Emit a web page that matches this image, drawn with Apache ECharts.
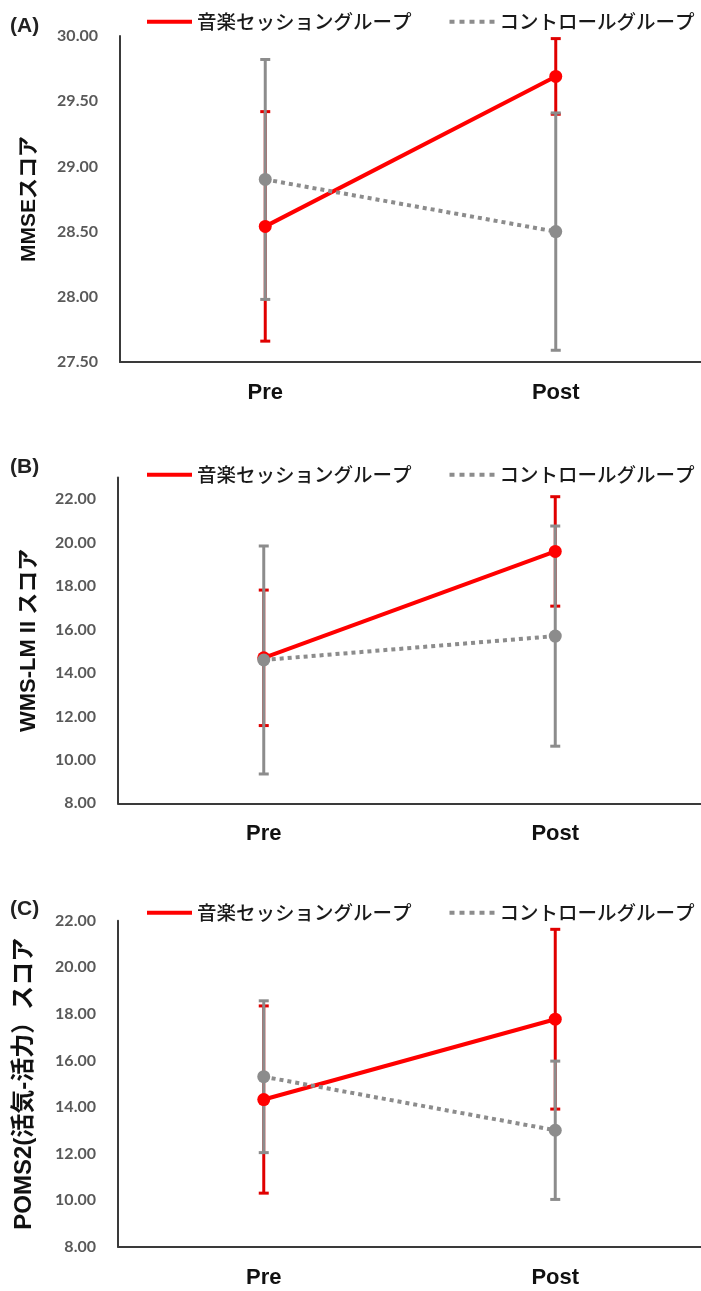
<!DOCTYPE html>
<html>
<head>
<meta charset="utf-8">
<script src="https://cdn.jsdelivr.net/npm/echarts@6/dist/echarts.min.js"></script>
<style>
html,body{margin:0;padding:0;background:#fff;}
#chart{width:701px;height:1291px;}
</style>
</head>
<body>
<div id="chart"></div>
<script>
// ---- data ----
const categories = ['Pre', 'Post'];
const seriesNames = ['音楽セッショングループ', 'コントロールグループ'];
const panelLetters = ['(A)', '(B)', '(C)'];
const axisNames = ['MMSEスコア', 'WMS-LM II スコア', 'POMS2(活気-活力）スコア'];

// Panel A: MMSE
const musicMeanA = [28.54, 29.69];
const musicSdA = [0.88, 0.29];
const controlMeanA = [28.90, 28.50];
const controlSdA = [0.92, 0.91];
// Panel B: WMS-LM II
const musicMeanB = [14.70, 19.60];
const musicSdB = [3.12, 2.52];
const controlMeanB = [14.60, 15.70];
const controlSdB = [5.25, 5.07];
// Panel C: POMS2
const musicMeanC = [14.32, 17.77];
const musicSdC = [4.02, 3.86];
const controlMeanC = [15.30, 13.00];
const controlSdC = [3.26, 2.97];

// y axis ranges [min, max, interval, last labelled tick]
const yRangeA = [27.5, 30, 0.5, 30];
const yRangeB = [8, 23, 2, 22];
const yRangeC = [8, 22, 2, 22];

// ---- build ----
const RED = '#ff0000';
const RED_BAR = '#e00000';
const GRAY = '#8c8c8c';

const panels = [
  {music: musicMeanA, musicSd: musicSdA, ctrl: controlMeanA, ctrlSd: controlSdA, range: yRangeA,
   grid: {left: 120, top: 36, right: 0, height: 326}, legendTop: 12, titleTop: 16, nameSize: 21, nameGap: 80},
  {music: musicMeanB, musicSd: musicSdB, ctrl: controlMeanB, ctrlSd: controlSdB, range: yRangeB,
   grid: {left: 118, top: 477.6, right: 0, height: 325.7}, legendTop: 465, titleTop: 457, nameSize: 22, nameGap: 78},
  {music: musicMeanC, musicSd: musicSdC, ctrl: controlMeanC, ctrlSd: controlSdC, range: yRangeC,
   grid: {left: 118, top: 920.7, right: 0, height: 326}, legendTop: 903, titleTop: 899, nameSize: 24, nameGap: 82}
];

function errData(mean, sd) {
  return mean.map((m, i) => [i, m - sd[i], m + sd[i]]);
}
function errRender(color) {
  return function (params, api) {
    const x = api.value(0);
    const lo = api.coord([x, api.value(1)]);
    const hi = api.coord([x, api.value(2)]);
    const w = 5;
    const style = {stroke: color, lineWidth: 3};
    return {
      type: 'group',
      children: [
        {type: 'line', shape: {x1: lo[0], y1: lo[1], x2: hi[0], y2: hi[1]}, style: style},
        {type: 'line', shape: {x1: hi[0] - w, y1: hi[1], x2: hi[0] + w, y2: hi[1]}, style: style},
        {type: 'line', shape: {x1: lo[0] - w, y1: lo[1], x2: lo[0] + w, y2: lo[1]}, style: style}
      ]
    };
  };
}

const grid = [], xAxis = [], yAxis = [], series = [], legend = [], title = [];
const dotPath = 'path://M0,0h5v4h-5zM10,0h5v4h-5zM20,0h5v4h-5zM30,0h5v4h-5zM40,0h5v4h-5z';

panels.forEach((p, k) => {
  grid.push(p.grid);
  xAxis.push({
    type: 'category', gridIndex: k, data: categories, boundaryGap: true,
    axisLine: {lineStyle: {color: '#3a3a3a', width: 2}},
    axisTick: {show: false},
    axisLabel: {color: '#111', fontSize: 22, fontWeight: 'bold', fontFamily: 'Liberation Sans, Arial, sans-serif', margin: 20}
  });
  yAxis.push({
    type: 'value', gridIndex: k, min: p.range[0], max: p.range[1], interval: p.range[2],
    splitLine: {show: false},
    axisLine: {show: true, lineStyle: {color: '#3a3a3a', width: 2}},
    axisTick: {show: false},
    axisLabel: {
      color: '#595959', fontSize: 16, fontWeight: 'bold', fontFamily: 'Lato, Liberation Sans, sans-serif', margin: 22,
      formatter: (v) => (v > p.range[3] + 1e-9 ? '' : v.toFixed(2))
    },
    name: axisNames[k], nameLocation: 'middle', nameGap: p.nameGap,
    nameTextStyle: {color: '#111', fontSize: p.nameSize, fontWeight: 'bold', fontFamily: 'Liberation Sans, Noto Sans CJK JP, sans-serif'}
  });
  series.push({
    type: 'custom', name: 'music-sd', xAxisIndex: k, yAxisIndex: k, z: 1,
    renderItem: errRender(RED_BAR), data: errData(p.music, p.musicSd), silent: true
  });
  series.push({
    type: 'custom', name: 'control-sd', xAxisIndex: k, yAxisIndex: k, z: 2,
    renderItem: errRender(GRAY), data: errData(p.ctrl, p.ctrlSd), silent: true
  });
  series.push({
    type: 'line', name: seriesNames[0], xAxisIndex: k, yAxisIndex: k, z: 3,
    data: p.music, symbol: 'circle', symbolSize: 13,
    itemStyle: {color: RED}, lineStyle: {color: RED, width: 4}
  });
  series.push({
    type: 'line', name: seriesNames[1], xAxisIndex: k, yAxisIndex: k, z: 4,
    data: p.ctrl, symbol: 'circle', symbolSize: 13,
    itemStyle: {color: GRAY}, lineStyle: {color: GRAY, width: 4, type: [4, 4]}
  });
  legend.push({
    left: 147, top: p.legendTop, padding: 0, itemGap: 38, itemWidth: 45, itemHeight: 4,
    textStyle: {color: '#1a1a1a', fontSize: 19.5, fontWeight: 500, fontFamily: 'Noto Sans CJK JP, sans-serif'},
    data: [{name: seriesNames[0], icon: 'rect'}, {name: seriesNames[1], icon: dotPath}]
  });
  title.push({
    text: panelLetters[k], left: 10, top: p.titleTop, padding: 0,
    textStyle: {color: '#222', fontSize: 21, fontWeight: 'bold', fontFamily: 'Liberation Sans, Arial, sans-serif'}
  });
});

const chart = echarts.init(document.getElementById('chart'), null, {renderer: 'canvas'});
chart.setOption({
  backgroundColor: '#fff',
  animation: false,
  title, grid, xAxis, yAxis, series, legend
});
</script>
</body>
</html>
